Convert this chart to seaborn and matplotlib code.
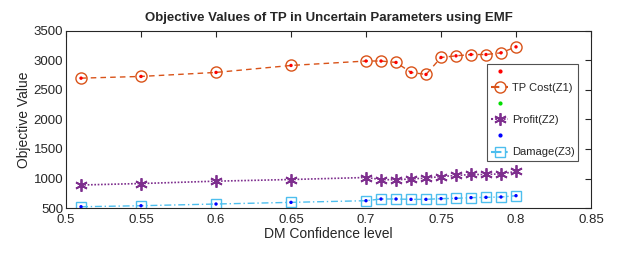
import numpy as np
import matplotlib
matplotlib.use("Agg")
import matplotlib.pyplot as plt
from matplotlib.lines import Line2D
import seaborn as sns

# DM confidence levels and objective values
confidence = [0.51, 0.55, 0.60, 0.65, 0.70, 0.71, 0.72, 0.73, 0.74, 0.75, 0.76, 0.77, 0.78, 0.79, 0.80]
tp_cost = [2700, 2729, 2797, 2915, 2990, 2990, 2966, 2797, 2763, 3050, 3078, 3100, 3100, 3129, 3230]
profit = [890, 915, 955, 983, 1017, 983, 977, 994, 1006, 1034, 1051, 1068, 1068, 1079, 1119]
damage = [522, 539, 568, 596, 624, 653, 653, 647, 647, 659, 664, 676, 681, 687, 709]

labels = ["TP Cost(Z1)", "Profit(Z2)", "Damage(Z3)"]
xticks = [0.5, 0.55, 0.6, 0.65, 0.7, 0.75, 0.8, 0.85]
yticks = [500, 1000, 1500, 2000, 2500, 3000, 3500]

sns.set_style("white")
plt.rcParams['font.family'] = ['Liberation Sans', 'DejaVu Sans']

fig = plt.figure(figsize=(6.41, 2.62), dpi=100)
ax = fig.add_axes([0.103, 0.206, 0.819, 0.676])

c_cost = "#D95319"
c_prof = "#7E2F8E"
c_dam = "#4DBEEE"
asterisk = (6, 2, 0)

sns.lineplot(x=confidence, y=tp_cost, ax=ax, color=c_cost, linestyle=(0, (4, 3)), linewidth=1,
             marker="o", markersize=8, markerfacecolor="none", markeredgecolor=c_cost, markeredgewidth=1)
sns.lineplot(x=confidence, y=profit, ax=ax, color=c_prof, linestyle=(0, (1, 1)), linewidth=1.2,
             marker=asterisk, markersize=9, markeredgecolor=c_prof, markeredgewidth=1.3)
sns.lineplot(x=confidence, y=damage, ax=ax, color=c_dam, linestyle=(0, (5, 2, 1, 2)), linewidth=1,
             marker="s", markersize=7, markerfacecolor="none", markeredgecolor=c_dam, markeredgewidth=1)

# small dots on top of each series
sns.scatterplot(x=confidence, y=tp_cost, ax=ax, color="red", s=6, marker="o", edgecolor="none", zorder=5)
sns.scatterplot(x=confidence, y=profit, ax=ax, color="#00dd00", s=4, marker="o", edgecolor="none", zorder=1)
sns.scatterplot(x=confidence, y=damage, ax=ax, color="blue", s=6, marker="o", edgecolor="none", zorder=5)

ax.set_xlim(0.5, 0.85)
ax.set_ylim(500, 3500)
ax.set_xticks(xticks)
ax.set_xticklabels([f"{t:g}" for t in xticks])
ax.set_yticks(yticks)
ax.tick_params(direction="in", top=True, right=True, length=4, width=0.8,
               labelsize=9.5, colors="#262626")
ax.tick_params(axis="x", pad=4)
ax.tick_params(axis="y", pad=2)
for s in ax.spines.values():
    s.set_color("#262626")
    s.set_linewidth(0.8)

ax.set_title("Objective Values of TP in Uncertain Parameters using EMF", fontsize=9.5,
             fontweight="bold", pad=7)
ax.set_xlabel("DM Confidence level", fontsize=10, color="#262626", labelpad=1)
ax.set_ylabel("Objective Value", fontsize=10, color="#262626", labelpad=2)

handles = [
    Line2D([], [], linestyle="none", marker="o", markersize=2, color="red"),
    Line2D([], [], color=c_cost, linestyle=(0, (4, 3)), marker="o", markersize=8,
           markerfacecolor="none", markeredgecolor=c_cost),
    Line2D([], [], linestyle="none", marker="o", markersize=2, color="#00dd00"),
    Line2D([], [], color=c_prof, linestyle=(0, (1, 1)), marker=asterisk, markersize=9,
           markeredgewidth=1.3),
    Line2D([], [], linestyle="none", marker="o", markersize=2, color="blue"),
    Line2D([], [], color=c_dam, linestyle=(0, (5, 2, 1, 2)), marker="s", markersize=7,
           markerfacecolor="none", markeredgecolor=c_dam),
]
leg_labels = ["", labels[0], "", labels[1], "", labels[2]]
leg = ax.legend(handles, leg_labels, loc="upper right", bbox_to_anchor=(0.975, 0.816),
                fontsize=8, frameon=True, fancybox=False, edgecolor="#262626",
                handlelength=1.6, handletextpad=0.3, borderpad=0.3, labelspacing=0.55,
                borderaxespad=0)
leg.get_frame().set_linewidth(0.8)

fig.savefig("out.png", dpi=100)
